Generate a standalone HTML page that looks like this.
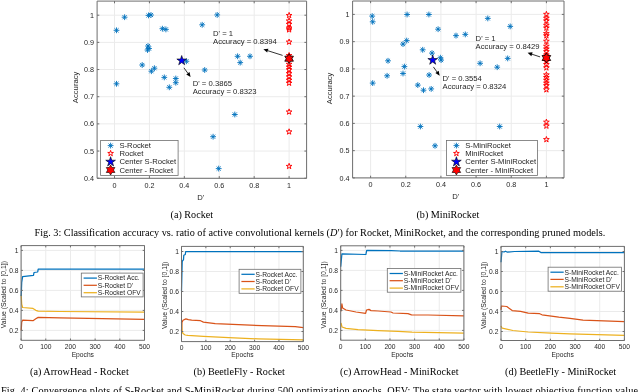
<!DOCTYPE html>
<html><head><meta charset="utf-8"><style>
html,body{margin:0;padding:0;background:#fff;width:640px;height:392px;overflow:hidden}
svg{display:block;will-change:transform}
</style></head><body>
<svg width="640" height="392" viewBox="0 0 640 392">
<rect width="640" height="392" fill="#fff"/>
<path d="M114.5 1.1V178.3M149.42 1.1V178.3M184.34 1.1V178.3M219.26 1.1V178.3M254.18 1.1V178.3M289.1 1.1V178.3M97.1 178.22H306.6M97.1 151.05H306.6M97.1 123.88H306.6M97.1 96.71H306.6M97.1 69.54H306.6M97.1 42.37H306.6M97.1 15.2H306.6" stroke="#ebebeb" stroke-width="1" fill="none"/>
<path d="M121.7 17.2L127.5 17.2M124.6 14.3L124.6 20.1M122.55 15.15L126.65 19.25M122.55 19.25L126.65 15.15M113.6 30.3L119.4 30.3M116.5 27.4L116.5 33.2M114.45 28.25L118.55 32.35M114.45 32.35L118.55 28.25M145.6 15.4L151.4 15.4M148.5 12.5L148.5 18.3M146.45 13.35L150.55 17.45M146.45 17.45L150.55 13.35M148.1 15L153.9 15M151 12.1L151 17.9M148.95 12.95L153.05 17.05M148.95 17.05L153.05 12.95M159.5 28.7L165.3 28.7M162.4 25.8L162.4 31.6M160.35 26.65L164.45 30.75M160.35 30.75L164.45 26.65M163 29.4L168.8 29.4M165.9 26.5L165.9 32.3M163.85 27.35L167.95 31.45M163.85 31.45L167.95 27.35M199.3 24.8L205.1 24.8M202.2 21.9L202.2 27.7M200.15 22.75L204.25 26.85M200.15 26.85L204.25 22.75M214.3 14.9L220.1 14.9M217.2 12L217.2 17.8M215.15 12.85L219.25 16.95M215.15 16.95L219.25 12.85M145.1 46L150.9 46M148 43.1L148 48.9M145.95 43.95L150.05 48.05M145.95 48.05L150.05 43.95M146.1 48.5L151.9 48.5M149 45.6L149 51.4M146.95 46.45L151.05 50.55M146.95 50.55L151.05 46.45M144.6 50L150.4 50M147.5 47.1L147.5 52.9M145.45 47.95L149.55 52.05M145.45 52.05L149.55 47.95M139.3 65L145.1 65M142.2 62.1L142.2 67.9M140.15 62.95L144.25 67.05M140.15 67.05L144.25 62.95M151.5 68.2L157.3 68.2M154.4 65.3L154.4 71.1M152.35 66.15L156.45 70.25M152.35 70.25L156.45 66.15M148.5 71.2L154.3 71.2M151.4 68.3L151.4 74.1M149.35 69.15L153.45 73.25M149.35 73.25L153.45 69.15M113.6 83.8L119.4 83.8M116.5 80.9L116.5 86.7M114.45 81.75L118.55 85.85M114.45 85.85L118.55 81.75M161.4 77.4L167.2 77.4M164.3 74.5L164.3 80.3M162.25 75.35L166.35 79.45M162.25 79.45L166.35 75.35M172.9 78.5L178.7 78.5M175.8 75.6L175.8 81.4M173.75 76.45L177.85 80.55M173.75 80.55L177.85 76.45M172.9 82.7L178.7 82.7M175.8 79.8L175.8 85.6M173.75 80.65L177.85 84.75M173.75 84.75L177.85 80.65M166.4 87.3L172.2 87.3M169.3 84.4L169.3 90.2M167.25 85.25L171.35 89.35M167.25 89.35L171.35 85.25M183.5 61.25L189.3 61.25M186.4 58.35L186.4 64.15M184.35 59.2L188.45 63.3M184.35 63.3L188.45 59.2M201.8 70L207.6 70M204.7 67.1L204.7 72.9M202.65 67.95L206.75 72.05M202.65 72.05L206.75 67.95M234.7 56.3L240.5 56.3M237.6 53.4L237.6 59.2M235.55 54.25L239.65 58.35M235.55 58.35L239.65 54.25M237.3 62.6L243.1 62.6M240.2 59.7L240.2 65.5M238.15 60.55L242.25 64.65M238.15 64.65L242.25 60.55M247.1 56.3L252.9 56.3M250 53.4L250 59.2M247.95 54.25L252.05 58.35M247.95 58.35L252.05 54.25M231.9 114.5L237.7 114.5M234.8 111.6L234.8 117.4M232.75 112.45L236.85 116.55M232.75 116.55L236.85 112.45M210.2 136.7L216 136.7M213.1 133.8L213.1 139.6M211.05 134.65L215.15 138.75M211.05 138.75L215.15 134.65M215.8 168.6L221.6 168.6M218.7 165.7L218.7 171.5M216.65 166.55L220.75 170.65M216.65 170.65L220.75 166.55" stroke="#0072BD" stroke-width="0.9" fill="none"/>
<polygon points="289.1,12.4 289.77,14.47 291.95,14.47 290.19,15.75 290.86,17.83 289.1,16.55 287.34,17.83 288.01,15.75 286.25,14.47 288.43,14.47" fill="none" stroke="#ff0000" stroke-width="0.95"/>
<polygon points="289.1,17.9 289.77,19.97 291.95,19.97 290.19,21.25 290.86,23.33 289.1,22.05 287.34,23.33 288.01,21.25 286.25,19.97 288.43,19.97" fill="none" stroke="#ff0000" stroke-width="0.95"/>
<polygon points="289.1,21.2 289.77,23.27 291.95,23.27 290.19,24.55 290.86,26.63 289.1,25.35 287.34,26.63 288.01,24.55 286.25,23.27 288.43,23.27" fill="none" stroke="#ff0000" stroke-width="0.95"/>
<polygon points="289.1,25 289.77,27.07 291.95,27.07 290.19,28.35 290.86,30.43 289.1,29.15 287.34,30.43 288.01,28.35 286.25,27.07 288.43,27.07" fill="none" stroke="#ff0000" stroke-width="0.95"/>
<polygon points="289.1,26.7 289.77,28.77 291.95,28.77 290.19,30.05 290.86,32.13 289.1,30.85 287.34,32.13 288.01,30.05 286.25,28.77 288.43,28.77" fill="none" stroke="#ff0000" stroke-width="0.95"/>
<polygon points="289.1,39 289.77,41.07 291.95,41.07 290.19,42.35 290.86,44.43 289.1,43.15 287.34,44.43 288.01,42.35 286.25,41.07 288.43,41.07" fill="none" stroke="#ff0000" stroke-width="0.95"/>
<polygon points="289.1,52.5 289.77,54.57 291.95,54.57 290.19,55.85 290.86,57.93 289.1,56.65 287.34,57.93 288.01,55.85 286.25,54.57 288.43,54.57" fill="none" stroke="#ff0000" stroke-width="0.95"/>
<polygon points="289.1,61.2 289.77,63.27 291.95,63.27 290.19,64.55 290.86,66.63 289.1,65.35 287.34,66.63 288.01,64.55 286.25,63.27 288.43,63.27" fill="none" stroke="#ff0000" stroke-width="0.95"/>
<polygon points="289.1,64 289.77,66.07 291.95,66.07 290.19,67.35 290.86,69.43 289.1,68.15 287.34,69.43 288.01,67.35 286.25,66.07 288.43,66.07" fill="none" stroke="#ff0000" stroke-width="0.95"/>
<polygon points="289.1,66.7 289.77,68.77 291.95,68.77 290.19,70.05 290.86,72.13 289.1,70.85 287.34,72.13 288.01,70.05 286.25,68.77 288.43,68.77" fill="none" stroke="#ff0000" stroke-width="0.95"/>
<polygon points="289.1,70.5 289.77,72.57 291.95,72.57 290.19,73.85 290.86,75.93 289.1,74.65 287.34,75.93 288.01,73.85 286.25,72.57 288.43,72.57" fill="none" stroke="#ff0000" stroke-width="0.95"/>
<polygon points="289.1,73.8 289.77,75.87 291.95,75.87 290.19,77.15 290.86,79.23 289.1,77.95 287.34,79.23 288.01,77.15 286.25,75.87 288.43,75.87" fill="none" stroke="#ff0000" stroke-width="0.95"/>
<polygon points="289.1,77.1 289.77,79.17 291.95,79.17 290.19,80.45 290.86,82.53 289.1,81.25 287.34,82.53 288.01,80.45 286.25,79.17 288.43,79.17" fill="none" stroke="#ff0000" stroke-width="0.95"/>
<polygon points="289.1,80.1 289.77,82.17 291.95,82.17 290.19,83.45 290.86,85.53 289.1,84.25 287.34,85.53 288.01,83.45 286.25,82.17 288.43,82.17" fill="none" stroke="#ff0000" stroke-width="0.95"/>
<polygon points="289.1,108.9 289.77,110.97 291.95,110.97 290.19,112.25 290.86,114.33 289.1,113.05 287.34,114.33 288.01,112.25 286.25,110.97 288.43,110.97" fill="none" stroke="#ff0000" stroke-width="0.95"/>
<polygon points="289.1,128.8 289.77,130.87 291.95,130.87 290.19,132.15 290.86,134.23 289.1,132.95 287.34,134.23 288.01,132.15 286.25,130.87 288.43,130.87" fill="none" stroke="#ff0000" stroke-width="0.95"/>
<polygon points="289.1,163.3 289.77,165.37 291.95,165.37 290.19,166.65 290.86,168.73 289.1,167.45 287.34,168.73 288.01,166.65 286.25,165.37 288.43,165.37" fill="none" stroke="#ff0000" stroke-width="0.95"/>
<polygon points="181.7,55.5 182.85,59.02 186.55,59.02 183.55,61.2 184.7,64.73 181.7,62.55 178.7,64.73 179.85,61.2 176.85,59.02 180.55,59.02" fill="#0000ff" stroke="#000" stroke-width="0.6"/>
<polygon points="289.1,53.7 290.54,56.2 293.43,56.2 291.99,58.7 293.43,61.2 290.54,61.2 289.1,63.7 287.66,61.2 284.77,61.2 286.22,58.7 284.77,56.2 287.66,56.2" fill="#ff0000" stroke="#000" stroke-width="0.8"/>
<path d="M183.9 67.8L187.89 73.28" stroke="#000" stroke-width="0.8"/>
<polygon points="190.6,77 186.28,74.46 189.51,72.1" fill="#000"/>
<path d="M282.6 55.4L267.78 50.69" stroke="#000" stroke-width="0.8"/>
<polygon points="263.4,49.3 268.39,48.79 267.18,52.6" fill="#000"/>
<path d="M97.1 1.1H306.6V178.3H97.1ZM114.5 178.3v-2.2M114.5 1.1v2.2M149.42 178.3v-2.2M149.42 1.1v2.2M184.34 178.3v-2.2M184.34 1.1v2.2M219.26 178.3v-2.2M219.26 1.1v2.2M254.18 178.3v-2.2M254.18 1.1v2.2M289.1 178.3v-2.2M289.1 1.1v2.2M97.1 178.22h2.2M306.6 178.22h-2.2M97.1 151.05h2.2M306.6 151.05h-2.2M97.1 123.88h2.2M306.6 123.88h-2.2M97.1 96.71h2.2M306.6 96.71h-2.2M97.1 69.54h2.2M306.6 69.54h-2.2M97.1 42.37h2.2M306.6 42.37h-2.2M97.1 15.2h2.2M306.6 15.2h-2.2" stroke="#6e6e6e" stroke-width="1" fill="none"/>
<text x="114.5" y="187.7" font-size="7.2" text-anchor="middle" fill="#262626" style='font-family:"Liberation Sans", sans-serif' >0</text>
<text x="149.42" y="187.7" font-size="7.2" text-anchor="middle" fill="#262626" style='font-family:"Liberation Sans", sans-serif' >0.2</text>
<text x="184.34" y="187.7" font-size="7.2" text-anchor="middle" fill="#262626" style='font-family:"Liberation Sans", sans-serif' >0.4</text>
<text x="219.26" y="187.7" font-size="7.2" text-anchor="middle" fill="#262626" style='font-family:"Liberation Sans", sans-serif' >0.6</text>
<text x="254.18" y="187.7" font-size="7.2" text-anchor="middle" fill="#262626" style='font-family:"Liberation Sans", sans-serif' >0.8</text>
<text x="289.1" y="187.7" font-size="7.2" text-anchor="middle" fill="#262626" style='font-family:"Liberation Sans", sans-serif' >1</text>
<text x="93.9" y="180.82" font-size="7.2" text-anchor="end" fill="#262626" style='font-family:"Liberation Sans", sans-serif' >0.4</text>
<text x="93.9" y="153.65" font-size="7.2" text-anchor="end" fill="#262626" style='font-family:"Liberation Sans", sans-serif' >0.5</text>
<text x="93.9" y="126.48" font-size="7.2" text-anchor="end" fill="#262626" style='font-family:"Liberation Sans", sans-serif' >0.6</text>
<text x="93.9" y="99.31" font-size="7.2" text-anchor="end" fill="#262626" style='font-family:"Liberation Sans", sans-serif' >0.7</text>
<text x="93.9" y="72.14" font-size="7.2" text-anchor="end" fill="#262626" style='font-family:"Liberation Sans", sans-serif' >0.8</text>
<text x="93.9" y="44.97" font-size="7.2" text-anchor="end" fill="#262626" style='font-family:"Liberation Sans", sans-serif' >0.9</text>
<text x="93.9" y="17.8" font-size="7.2" text-anchor="end" fill="#262626" style='font-family:"Liberation Sans", sans-serif' >1</text>
<text x="200.65" y="199.6" font-size="7.7" text-anchor="middle" fill="#262626" style='font-family:"Liberation Sans", sans-serif' >D'</text>
<text transform="translate(77.6 87.4) rotate(-90)" font-size="7.7" text-anchor="middle" fill="#262626" style='font-family:"Liberation Sans", sans-serif'>Accuracy</text>
<text x="192.7" y="85.75" font-size="7.7" text-anchor="start" fill="#262626" style='font-family:"Liberation Sans", sans-serif' >D' = 0.3865</text>
<text x="192.7" y="94.05" font-size="7.7" text-anchor="start" fill="#262626" style='font-family:"Liberation Sans", sans-serif' >Accuracy = 0.8323</text>
<text x="213" y="36.1" font-size="7.7" text-anchor="start" fill="#262626" style='font-family:"Liberation Sans", sans-serif' >D' = 1</text>
<text x="213" y="44.4" font-size="7.7" text-anchor="start" fill="#262626" style='font-family:"Liberation Sans", sans-serif' >Accuracy = 0.8394</text>
<rect x="100.6" y="140.4" width="77.5" height="35.2" fill="#fff" stroke="#6e6e6e" stroke-width="0.8"/>
<path d="M107.7 145.6L113.5 145.6M110.6 142.7L110.6 148.5M108.55 143.55L112.65 147.65M108.55 147.65L112.65 143.55" stroke="#0072BD" stroke-width="0.9" fill="none"/>
<polygon points="110.6,150.4 111.27,152.47 113.45,152.47 111.69,153.75 112.36,155.83 110.6,154.55 108.84,155.83 109.51,153.75 107.75,152.47 109.93,152.47" fill="none" stroke="#ff0000" stroke-width="0.95"/>
<polygon points="110.6,156.7 111.75,160.22 115.45,160.22 112.45,162.4 113.6,165.93 110.6,163.75 107.6,165.93 108.75,162.4 105.75,160.22 109.45,160.22" fill="#0000ff" stroke="#000" stroke-width="0.6"/>
<polygon points="110.6,165 112.04,167.5 114.93,167.5 113.48,170 114.93,172.5 112.04,172.5 110.6,175 109.16,172.5 106.27,172.5 107.71,170 106.27,167.5 109.16,167.5" fill="#ff0000" stroke="#000" stroke-width="0.6"/>
<text x="119.4" y="148.1" font-size="7.7" text-anchor="start" fill="#262626" style='font-family:"Liberation Sans", sans-serif' >S-Rocket</text>
<text x="119.4" y="155.9" font-size="7.7" text-anchor="start" fill="#262626" style='font-family:"Liberation Sans", sans-serif' >Rocket</text>
<text x="119.4" y="164.3" font-size="7.7" text-anchor="start" fill="#262626" style='font-family:"Liberation Sans", sans-serif' >Center S-Rocket</text>
<text x="119.4" y="172.5" font-size="7.7" text-anchor="start" fill="#262626" style='font-family:"Liberation Sans", sans-serif' >Center - Rocket</text>
<text x="170.6" y="217.6" font-size="10.15" text-anchor="start" fill="#000" style='font-family:"Liberation Serif", serif' >(a) Rocket</text>
<path d="M370.6 1V177.9M405.76 1V177.9M440.92 1V177.9M476.08 1V177.9M511.24 1V177.9M546.4 1V177.9M352.6 177.9H564M352.6 150.65H564M352.6 123.4H564M352.6 96.15H564M352.6 68.9H564M352.6 41.65H564M352.6 14.4H564" stroke="#ebebeb" stroke-width="1" fill="none"/>
<path d="M369.3 16.1L375.1 16.1M372.2 13.2L372.2 19M370.15 14.05L374.25 18.15M370.15 18.15L374.25 14.05M369.8 21.8L375.6 21.8M372.7 18.9L372.7 24.7M370.65 19.75L374.75 23.85M370.65 23.85L374.75 19.75M404.2 14.5L410 14.5M407.1 11.6L407.1 17.4M405.05 12.45L409.15 16.55M405.05 16.55L409.15 12.45M426 14.5L431.8 14.5M428.9 11.6L428.9 17.4M426.85 12.45L430.95 16.55M426.85 16.55L430.95 12.45M435.2 29.2L441 29.2M438.1 26.3L438.1 32.1M436.05 27.15L440.15 31.25M436.05 31.25L440.15 27.15M453.1 35.6L458.9 35.6M456 32.7L456 38.5M453.95 33.55L458.05 37.65M453.95 37.65L458.05 33.55M462.4 34.4L468.2 34.4M465.3 31.5L465.3 37.3M463.25 32.35L467.35 36.45M463.25 36.45L467.35 32.35M484.9 18.4L490.7 18.4M487.8 15.5L487.8 21.3M485.75 16.35L489.85 20.45M485.75 20.45L489.85 16.35M507.3 26.4L513.1 26.4M510.2 23.5L510.2 29.3M508.15 24.35L512.25 28.45M508.15 28.45L512.25 24.35M400.1 44.1L405.9 44.1M403 41.2L403 47M400.95 42.05L405.05 46.15M400.95 46.15L405.05 42.05M403.8 40.6L409.6 40.6M406.7 37.7L406.7 43.5M404.65 38.55L408.75 42.65M404.65 42.65L408.75 38.55M419.8 49.8L425.6 49.8M422.7 46.9L422.7 52.7M420.65 47.75L424.75 51.85M420.65 51.85L424.75 47.75M429.1 53.1L434.9 53.1M432 50.2L432 56M429.95 51.05L434.05 55.15M429.95 55.15L434.05 51.05M437.5 57.7L443.3 57.7M440.4 54.8L440.4 60.6M438.35 55.65L442.45 59.75M438.35 59.75L442.45 55.65M438.2 60.1L444 60.1M441.1 57.2L441.1 63M439.05 58.05L443.15 62.15M439.05 62.15L443.15 58.05M385.1 60.8L390.9 60.8M388 57.9L388 63.7M385.95 58.75L390.05 62.85M385.95 62.85L390.05 58.75M401.5 66.6L407.3 66.6M404.4 63.7L404.4 69.5M402.35 64.55L406.45 68.65M402.35 68.65L406.45 64.55M384.2 75.8L390 75.8M387.1 72.9L387.1 78.7M385.05 73.75L389.15 77.85M385.05 77.85L389.15 73.75M400.1 73.5L405.9 73.5M403 70.6L403 76.4M400.95 71.45L405.05 75.55M400.95 75.55L405.05 71.45M426.2 75L432 75M429.1 72.1L429.1 77.9M427.05 72.95L431.15 77.05M427.05 77.05L431.15 72.95M369.8 83.1L375.6 83.1M372.7 80.2L372.7 86M370.65 81.05L374.75 85.15M370.65 85.15L374.75 81.05M414.9 85.1L420.7 85.1M417.8 82.2L417.8 88M415.75 83.05L419.85 87.15M415.75 87.15L419.85 83.05M420.6 90.2L426.4 90.2M423.5 87.3L423.5 93.1M421.45 88.15L425.55 92.25M421.45 92.25L425.55 88.15M428.3 88.9L434.1 88.9M431.2 86L431.2 91.8M429.15 86.85L433.25 90.95M429.15 90.95L433.25 86.85M477.2 63.3L483 63.3M480.1 60.4L480.1 66.2M478.05 61.25L482.15 65.35M478.05 65.35L482.15 61.25M494.3 67.2L500.1 67.2M497.2 64.3L497.2 70.1M495.15 65.15L499.25 69.25M495.15 69.25L499.25 65.15M504.8 58.4L510.6 58.4M507.7 55.5L507.7 61.3M505.65 56.35L509.75 60.45M505.65 60.45L509.75 56.35M417.5 126.5L423.3 126.5M420.4 123.6L420.4 129.4M418.35 124.45L422.45 128.55M418.35 128.55L422.45 124.45M432.1 145.8L437.9 145.8M435 142.9L435 148.7M432.95 143.75L437.05 147.85M432.95 147.85L437.05 143.75M496.8 126.5L502.6 126.5M499.7 123.6L499.7 129.4M497.65 124.45L501.75 128.55M497.65 128.55L501.75 124.45" stroke="#0072BD" stroke-width="0.9" fill="none"/>
<polygon points="546.4,11.3 547.07,13.37 549.25,13.37 547.49,14.65 548.16,16.73 546.4,15.45 544.64,16.73 545.31,14.65 543.55,13.37 545.73,13.37" fill="none" stroke="#ff0000" stroke-width="0.95"/>
<polygon points="546.4,15.2 547.07,17.27 549.25,17.27 547.49,18.55 548.16,20.63 546.4,19.35 544.64,20.63 545.31,18.55 543.55,17.27 545.73,17.27" fill="none" stroke="#ff0000" stroke-width="0.95"/>
<polygon points="546.4,17.9 547.07,19.97 549.25,19.97 547.49,21.25 548.16,23.33 546.4,22.05 544.64,23.33 545.31,21.25 543.55,19.97 545.73,19.97" fill="none" stroke="#ff0000" stroke-width="0.95"/>
<polygon points="546.4,22.3 547.07,24.37 549.25,24.37 547.49,25.65 548.16,27.73 546.4,26.45 544.64,27.73 545.31,25.65 543.55,24.37 545.73,24.37" fill="none" stroke="#ff0000" stroke-width="0.95"/>
<polygon points="546.4,25 547.07,27.07 549.25,27.07 547.49,28.35 548.16,30.43 546.4,29.15 544.64,30.43 545.31,28.35 543.55,27.07 545.73,27.07" fill="none" stroke="#ff0000" stroke-width="0.95"/>
<polygon points="546.4,30.5 547.07,32.57 549.25,32.57 547.49,33.85 548.16,35.93 546.4,34.65 544.64,35.93 545.31,33.85 543.55,32.57 545.73,32.57" fill="none" stroke="#ff0000" stroke-width="0.95"/>
<polygon points="546.4,32.7 547.07,34.77 549.25,34.77 547.49,36.05 548.16,38.13 546.4,36.85 544.64,38.13 545.31,36.05 543.55,34.77 545.73,34.77" fill="none" stroke="#ff0000" stroke-width="0.95"/>
<polygon points="546.4,38.2 547.07,40.27 549.25,40.27 547.49,41.55 548.16,43.63 546.4,42.35 544.64,43.63 545.31,41.55 543.55,40.27 545.73,40.27" fill="none" stroke="#ff0000" stroke-width="0.95"/>
<polygon points="546.4,43.2 547.07,45.27 549.25,45.27 547.49,46.55 548.16,48.63 546.4,47.35 544.64,48.63 545.31,46.55 543.55,45.27 545.73,45.27" fill="none" stroke="#ff0000" stroke-width="0.95"/>
<polygon points="546.4,46 547.07,48.07 549.25,48.07 547.49,49.35 548.16,51.43 546.4,50.15 544.64,51.43 545.31,49.35 543.55,48.07 545.73,48.07" fill="none" stroke="#ff0000" stroke-width="0.95"/>
<polygon points="546.4,48.6 547.07,50.67 549.25,50.67 547.49,51.95 548.16,54.03 546.4,52.75 544.64,54.03 545.31,51.95 543.55,50.67 545.73,50.67" fill="none" stroke="#ff0000" stroke-width="0.95"/>
<polygon points="546.4,52 547.07,54.07 549.25,54.07 547.49,55.35 548.16,57.43 546.4,56.15 544.64,57.43 545.31,55.35 543.55,54.07 545.73,54.07" fill="none" stroke="#ff0000" stroke-width="0.95"/>
<polygon points="546.4,58.5 547.07,60.57 549.25,60.57 547.49,61.85 548.16,63.93 546.4,62.65 544.64,63.93 545.31,61.85 543.55,60.57 545.73,60.57" fill="none" stroke="#ff0000" stroke-width="0.95"/>
<polygon points="546.4,61.5 547.07,63.57 549.25,63.57 547.49,64.85 548.16,66.93 546.4,65.65 544.64,66.93 545.31,64.85 543.55,63.57 545.73,63.57" fill="none" stroke="#ff0000" stroke-width="0.95"/>
<polygon points="546.4,64.8 547.07,66.87 549.25,66.87 547.49,68.15 548.16,70.23 546.4,68.95 544.64,70.23 545.31,68.15 543.55,66.87 545.73,66.87" fill="none" stroke="#ff0000" stroke-width="0.95"/>
<polygon points="546.4,71.8 547.07,73.87 549.25,73.87 547.49,75.15 548.16,77.23 546.4,75.95 544.64,77.23 545.31,75.15 543.55,73.87 545.73,73.87" fill="none" stroke="#ff0000" stroke-width="0.95"/>
<polygon points="546.4,74.5 547.07,76.57 549.25,76.57 547.49,77.85 548.16,79.93 546.4,78.65 544.64,79.93 545.31,77.85 543.55,76.57 545.73,76.57" fill="none" stroke="#ff0000" stroke-width="0.95"/>
<polygon points="546.4,77.2 547.07,79.27 549.25,79.27 547.49,80.55 548.16,82.63 546.4,81.35 544.64,82.63 545.31,80.55 543.55,79.27 545.73,79.27" fill="none" stroke="#ff0000" stroke-width="0.95"/>
<polygon points="546.4,80.1 547.07,82.17 549.25,82.17 547.49,83.45 548.16,85.53 546.4,84.25 544.64,85.53 545.31,83.45 543.55,82.17 545.73,82.17" fill="none" stroke="#ff0000" stroke-width="0.95"/>
<polygon points="546.4,82.6 547.07,84.67 549.25,84.67 547.49,85.95 548.16,88.03 546.4,86.75 544.64,88.03 545.31,85.95 543.55,84.67 545.73,84.67" fill="none" stroke="#ff0000" stroke-width="0.95"/>
<polygon points="546.4,86.7 547.07,88.77 549.25,88.77 547.49,90.05 548.16,92.13 546.4,90.85 544.64,92.13 545.31,90.05 543.55,88.77 545.73,88.77" fill="none" stroke="#ff0000" stroke-width="0.95"/>
<polygon points="546.4,119.1 547.07,121.17 549.25,121.17 547.49,122.45 548.16,124.53 546.4,123.25 544.64,124.53 545.31,122.45 543.55,121.17 545.73,121.17" fill="none" stroke="#ff0000" stroke-width="0.95"/>
<polygon points="546.4,123 547.07,125.07 549.25,125.07 547.49,126.35 548.16,128.43 546.4,127.15 544.64,128.43 545.31,126.35 543.55,125.07 545.73,125.07" fill="none" stroke="#ff0000" stroke-width="0.95"/>
<polygon points="546.4,136.5 547.07,138.57 549.25,138.57 547.49,139.85 548.16,141.93 546.4,140.65 544.64,141.93 545.31,139.85 543.55,138.57 545.73,138.57" fill="none" stroke="#ff0000" stroke-width="0.95"/>
<polygon points="432.7,55 433.85,58.52 437.55,58.52 434.55,60.7 435.7,64.23 432.7,62.05 429.7,64.23 430.85,60.7 427.85,58.52 431.55,58.52" fill="#0000ff" stroke="#000" stroke-width="0.6"/>
<polygon points="546.4,53 547.84,55.5 550.73,55.5 549.28,58 550.73,60.5 547.84,60.5 546.4,63 544.96,60.5 542.07,60.5 543.51,58 542.07,55.5 544.96,55.5" fill="#ff0000" stroke="#000" stroke-width="0.8"/>
<path d="M433.4 66.9L437.02 71.96" stroke="#000" stroke-width="0.8"/>
<polygon points="439.7,75.7 435.4,73.12 438.65,70.8" fill="#000"/>
<path d="M540.1 56.9L531.97 54.23" stroke="#000" stroke-width="0.8"/>
<polygon points="527.6,52.8 532.59,52.33 531.35,56.13" fill="#000"/>
<path d="M352.6 1H564V177.9H352.6ZM370.6 177.9v-2.2M370.6 1v2.2M405.76 177.9v-2.2M405.76 1v2.2M440.92 177.9v-2.2M440.92 1v2.2M476.08 177.9v-2.2M476.08 1v2.2M511.24 177.9v-2.2M511.24 1v2.2M546.4 177.9v-2.2M546.4 1v2.2M352.6 177.9h2.2M564 177.9h-2.2M352.6 150.65h2.2M564 150.65h-2.2M352.6 123.4h2.2M564 123.4h-2.2M352.6 96.15h2.2M564 96.15h-2.2M352.6 68.9h2.2M564 68.9h-2.2M352.6 41.65h2.2M564 41.65h-2.2M352.6 14.4h2.2M564 14.4h-2.2" stroke="#6e6e6e" stroke-width="1" fill="none"/>
<text x="370.6" y="187.3" font-size="7.2" text-anchor="middle" fill="#262626" style='font-family:"Liberation Sans", sans-serif' >0</text>
<text x="405.76" y="187.3" font-size="7.2" text-anchor="middle" fill="#262626" style='font-family:"Liberation Sans", sans-serif' >0.2</text>
<text x="440.92" y="187.3" font-size="7.2" text-anchor="middle" fill="#262626" style='font-family:"Liberation Sans", sans-serif' >0.4</text>
<text x="476.08" y="187.3" font-size="7.2" text-anchor="middle" fill="#262626" style='font-family:"Liberation Sans", sans-serif' >0.6</text>
<text x="511.24" y="187.3" font-size="7.2" text-anchor="middle" fill="#262626" style='font-family:"Liberation Sans", sans-serif' >0.8</text>
<text x="546.4" y="187.3" font-size="7.2" text-anchor="middle" fill="#262626" style='font-family:"Liberation Sans", sans-serif' >1</text>
<text x="349.4" y="180.5" font-size="7.2" text-anchor="end" fill="#262626" style='font-family:"Liberation Sans", sans-serif' >0.4</text>
<text x="349.4" y="153.25" font-size="7.2" text-anchor="end" fill="#262626" style='font-family:"Liberation Sans", sans-serif' >0.5</text>
<text x="349.4" y="126" font-size="7.2" text-anchor="end" fill="#262626" style='font-family:"Liberation Sans", sans-serif' >0.6</text>
<text x="349.4" y="98.75" font-size="7.2" text-anchor="end" fill="#262626" style='font-family:"Liberation Sans", sans-serif' >0.7</text>
<text x="349.4" y="71.5" font-size="7.2" text-anchor="end" fill="#262626" style='font-family:"Liberation Sans", sans-serif' >0.8</text>
<text x="349.4" y="44.25" font-size="7.2" text-anchor="end" fill="#262626" style='font-family:"Liberation Sans", sans-serif' >0.9</text>
<text x="349.4" y="17" font-size="7.2" text-anchor="end" fill="#262626" style='font-family:"Liberation Sans", sans-serif' >1</text>
<text x="455.8" y="198.8" font-size="7.7" text-anchor="middle" fill="#262626" style='font-family:"Liberation Sans", sans-serif' >D'</text>
<text transform="translate(331.6 88.4) rotate(-90)" font-size="7.7" text-anchor="middle" fill="#262626" style='font-family:"Liberation Sans", sans-serif'>Accuracy</text>
<text x="442.5" y="80.8" font-size="7.7" text-anchor="start" fill="#262626" style='font-family:"Liberation Sans", sans-serif' >D' = 0.3554</text>
<text x="442.5" y="89.1" font-size="7.7" text-anchor="start" fill="#262626" style='font-family:"Liberation Sans", sans-serif' >Accuracy = 0.8324</text>
<text x="475.6" y="40.7" font-size="7.7" text-anchor="start" fill="#262626" style='font-family:"Liberation Sans", sans-serif' >D' = 1</text>
<text x="475.6" y="49" font-size="7.7" text-anchor="start" fill="#262626" style='font-family:"Liberation Sans", sans-serif' >Accuracy = 0.8429</text>
<rect x="446.4" y="140.4" width="91" height="35.2" fill="#fff" stroke="#6e6e6e" stroke-width="0.8"/>
<path d="M453.5 145.6L459.3 145.6M456.4 142.7L456.4 148.5M454.35 143.55L458.45 147.65M454.35 147.65L458.45 143.55" stroke="#0072BD" stroke-width="0.9" fill="none"/>
<polygon points="456.4,150.4 457.07,152.47 459.25,152.47 457.49,153.75 458.16,155.83 456.4,154.55 454.64,155.83 455.31,153.75 453.55,152.47 455.73,152.47" fill="none" stroke="#ff0000" stroke-width="0.95"/>
<polygon points="456.4,156.7 457.55,160.22 461.25,160.22 458.25,162.4 459.4,165.93 456.4,163.75 453.4,165.93 454.55,162.4 451.55,160.22 455.25,160.22" fill="#0000ff" stroke="#000" stroke-width="0.6"/>
<polygon points="456.4,165 457.84,167.5 460.73,167.5 459.28,170 460.73,172.5 457.84,172.5 456.4,175 454.96,172.5 452.07,172.5 453.51,170 452.07,167.5 454.96,167.5" fill="#ff0000" stroke="#000" stroke-width="0.6"/>
<text x="465.2" y="148.1" font-size="7.7" text-anchor="start" fill="#262626" style='font-family:"Liberation Sans", sans-serif' >S-MiniRocket</text>
<text x="465.2" y="155.9" font-size="7.7" text-anchor="start" fill="#262626" style='font-family:"Liberation Sans", sans-serif' >MiniRocket</text>
<text x="465.2" y="164.3" font-size="7.7" text-anchor="start" fill="#262626" style='font-family:"Liberation Sans", sans-serif' >Center S-MiniRocket</text>
<text x="465.2" y="172.5" font-size="7.7" text-anchor="start" fill="#262626" style='font-family:"Liberation Sans", sans-serif' >Center - MiniRocket</text>
<text x="416.5" y="217.6" font-size="10.15" text-anchor="start" fill="#000" style='font-family:"Liberation Serif", serif' >(b) MiniRocket</text>
<path d="M21.1 245.6V340.3M45.78 245.6V340.3M70.46 245.6V340.3M95.14 245.6V340.3M119.82 245.6V340.3M144.5 245.6V340.3M21.1 330.4H144.5M21.1 310.4H144.5M21.1 290.4H144.5M21.1 270.4H144.5M21.1 250.4H144.5" stroke="#ebebeb" stroke-width="1" fill="none"/>
<polyline points="21.2,294.7 21.7,304.2 22.6,307.5 33,308.4 35.8,310.3 38.2,311.2 60,311.5 144.5,312.2" fill="none" stroke="#EDB120" stroke-width="1.25" stroke-linejoin="round"/>
<polyline points="21.2,330.5 21.7,322 22.6,320.2 33,320.7 35.8,318.8 38.2,317.4 60,317.8 144.5,319.4" fill="none" stroke="#D95319" stroke-width="1.25" stroke-linejoin="round"/>
<polyline points="21.2,296 21.7,282.4 22.6,276.7 33.5,275.3 34,272.5 37.7,272 38.2,269.2 144.5,269.2" fill="none" stroke="#0072BD" stroke-width="1.25" stroke-linejoin="round"/>
<path d="M21.1 245.6H144.5V340.3H21.1ZM21.1 340.3v-1.8M21.1 245.6v1.8M45.78 340.3v-1.8M45.78 245.6v1.8M70.46 340.3v-1.8M70.46 245.6v1.8M95.14 340.3v-1.8M95.14 245.6v1.8M119.82 340.3v-1.8M119.82 245.6v1.8M144.5 340.3v-1.8M144.5 245.6v1.8M21.1 330.4h1.8M144.5 330.4h-1.8M21.1 310.4h1.8M144.5 310.4h-1.8M21.1 290.4h1.8M144.5 290.4h-1.8M21.1 270.4h1.8M144.5 270.4h-1.8M21.1 250.4h1.8M144.5 250.4h-1.8" stroke="#6e6e6e" stroke-width="1" fill="none"/>
<text x="21.1" y="348.9" font-size="6.7" text-anchor="middle" fill="#262626" style='font-family:"Liberation Sans", sans-serif' >0</text>
<text x="45.78" y="348.9" font-size="6.7" text-anchor="middle" fill="#262626" style='font-family:"Liberation Sans", sans-serif' >100</text>
<text x="70.46" y="348.9" font-size="6.7" text-anchor="middle" fill="#262626" style='font-family:"Liberation Sans", sans-serif' >200</text>
<text x="95.14" y="348.9" font-size="6.7" text-anchor="middle" fill="#262626" style='font-family:"Liberation Sans", sans-serif' >300</text>
<text x="119.82" y="348.9" font-size="6.7" text-anchor="middle" fill="#262626" style='font-family:"Liberation Sans", sans-serif' >400</text>
<text x="144.5" y="348.9" font-size="6.7" text-anchor="middle" fill="#262626" style='font-family:"Liberation Sans", sans-serif' >500</text>
<text x="18.5" y="332.8" font-size="6.7" text-anchor="end" fill="#262626" style='font-family:"Liberation Sans", sans-serif' >0.2</text>
<text x="18.5" y="312.8" font-size="6.7" text-anchor="end" fill="#262626" style='font-family:"Liberation Sans", sans-serif' >0.4</text>
<text x="18.5" y="292.8" font-size="6.7" text-anchor="end" fill="#262626" style='font-family:"Liberation Sans", sans-serif' >0.6</text>
<text x="18.5" y="272.8" font-size="6.7" text-anchor="end" fill="#262626" style='font-family:"Liberation Sans", sans-serif' >0.8</text>
<text x="18.5" y="252.8" font-size="6.7" text-anchor="end" fill="#262626" style='font-family:"Liberation Sans", sans-serif' >1</text>
<text x="82.8" y="357.1" font-size="6.7" text-anchor="middle" fill="#262626" style='font-family:"Liberation Sans", sans-serif' >Epochs</text>
<text transform="translate(6.1 294.6) rotate(-90)" font-size="6.85" text-anchor="middle" fill="#262626" style='font-family:"Liberation Sans", sans-serif'>Value (Scaled to [0,1])</text>
<rect x="81.3" y="273.1" width="61.8" height="23.8" fill="#fff" stroke="#6e6e6e" stroke-width="0.8"/>
<path d="M83.6 278.1H96.9" stroke="#0072BD" stroke-width="1.25"/>
<text x="97.7" y="280.4" font-size="6.7" text-anchor="start" fill="#262626" style='font-family:"Liberation Sans", sans-serif' >S-Rocket Acc.</text>
<path d="M83.6 285.3H96.9" stroke="#D95319" stroke-width="1.25"/>
<text x="97.7" y="287.6" font-size="6.7" text-anchor="start" fill="#262626" style='font-family:"Liberation Sans", sans-serif' >S-Rocket D'</text>
<path d="M83.6 292.7H96.9" stroke="#EDB120" stroke-width="1.25"/>
<text x="97.7" y="295" font-size="6.7" text-anchor="start" fill="#262626" style='font-family:"Liberation Sans", sans-serif' >S-Rocket OFV</text>
<text x="30" y="374.5" font-size="10.2" text-anchor="start" fill="#000" style='font-family:"Liberation Serif", serif' >(a) ArrowHead - Rocket</text>
<path d="M181.5 246.4V341.6M205.86 246.4V341.6M230.22 246.4V341.6M254.58 246.4V341.6M278.94 246.4V341.6M303.3 246.4V341.6M181.5 331.5H303.3M181.5 311.5H303.3M181.5 291.5H303.3M181.5 271.5H303.3M181.5 251.5H303.3" stroke="#ebebeb" stroke-width="1" fill="none"/>
<polyline points="181.5,322.2 182.2,331.5 183,333.5 185.2,335 187.8,335.4 203.4,336.4 228.8,337.7 258.1,338.9 303.3,339.8" fill="none" stroke="#EDB120" stroke-width="1.25" stroke-linejoin="round"/>
<polyline points="181.5,331.3 181.9,322.5 183,320.2 185.9,318.9 188.3,319.7 191.7,320.2 200.5,320.7 203.4,322.1 215.2,323.7 238.6,324.6 262,325.6 295.2,326.6 303.3,327.6" fill="none" stroke="#D95319" stroke-width="1.25" stroke-linejoin="round"/>
<polyline points="181.5,291.2 182.2,261.4 183.5,259.6 183.8,255.3 185.3,254.5 185.6,252 186,251.5 303.3,251.5" fill="none" stroke="#0072BD" stroke-width="1.25" stroke-linejoin="round"/>
<path d="M181.5 246.4H303.3V341.6H181.5ZM181.5 341.6v-1.8M181.5 246.4v1.8M205.86 341.6v-1.8M205.86 246.4v1.8M230.22 341.6v-1.8M230.22 246.4v1.8M254.58 341.6v-1.8M254.58 246.4v1.8M278.94 341.6v-1.8M278.94 246.4v1.8M303.3 341.6v-1.8M303.3 246.4v1.8M181.5 331.5h1.8M303.3 331.5h-1.8M181.5 311.5h1.8M303.3 311.5h-1.8M181.5 291.5h1.8M303.3 291.5h-1.8M181.5 271.5h1.8M303.3 271.5h-1.8M181.5 251.5h1.8M303.3 251.5h-1.8" stroke="#6e6e6e" stroke-width="1" fill="none"/>
<text x="181.5" y="350.2" font-size="6.7" text-anchor="middle" fill="#262626" style='font-family:"Liberation Sans", sans-serif' >0</text>
<text x="205.86" y="350.2" font-size="6.7" text-anchor="middle" fill="#262626" style='font-family:"Liberation Sans", sans-serif' >100</text>
<text x="230.22" y="350.2" font-size="6.7" text-anchor="middle" fill="#262626" style='font-family:"Liberation Sans", sans-serif' >200</text>
<text x="254.58" y="350.2" font-size="6.7" text-anchor="middle" fill="#262626" style='font-family:"Liberation Sans", sans-serif' >300</text>
<text x="278.94" y="350.2" font-size="6.7" text-anchor="middle" fill="#262626" style='font-family:"Liberation Sans", sans-serif' >400</text>
<text x="303.3" y="350.2" font-size="6.7" text-anchor="middle" fill="#262626" style='font-family:"Liberation Sans", sans-serif' >500</text>
<text x="178.9" y="333.9" font-size="6.7" text-anchor="end" fill="#262626" style='font-family:"Liberation Sans", sans-serif' >0.2</text>
<text x="178.9" y="313.9" font-size="6.7" text-anchor="end" fill="#262626" style='font-family:"Liberation Sans", sans-serif' >0.4</text>
<text x="178.9" y="293.9" font-size="6.7" text-anchor="end" fill="#262626" style='font-family:"Liberation Sans", sans-serif' >0.6</text>
<text x="178.9" y="273.9" font-size="6.7" text-anchor="end" fill="#262626" style='font-family:"Liberation Sans", sans-serif' >0.8</text>
<text x="178.9" y="253.9" font-size="6.7" text-anchor="end" fill="#262626" style='font-family:"Liberation Sans", sans-serif' >1</text>
<text x="242.4" y="357.1" font-size="6.7" text-anchor="middle" fill="#262626" style='font-family:"Liberation Sans", sans-serif' >Epochs</text>
<text transform="translate(166.5 295.4) rotate(-90)" font-size="6.85" text-anchor="middle" fill="#262626" style='font-family:"Liberation Sans", sans-serif'>Value (Scaled to [0,1])</text>
<rect x="239.1" y="269.3" width="61.8" height="24" fill="#fff" stroke="#6e6e6e" stroke-width="0.8"/>
<path d="M241.4 274.3H254.7" stroke="#0072BD" stroke-width="1.25"/>
<text x="255.5" y="276.6" font-size="6.7" text-anchor="start" fill="#262626" style='font-family:"Liberation Sans", sans-serif' >S-Rocket Acc.</text>
<path d="M241.4 281.5H254.7" stroke="#D95319" stroke-width="1.25"/>
<text x="255.5" y="283.8" font-size="6.7" text-anchor="start" fill="#262626" style='font-family:"Liberation Sans", sans-serif' >S-Rocket D'</text>
<path d="M241.4 288.9H254.7" stroke="#EDB120" stroke-width="1.25"/>
<text x="255.5" y="291.2" font-size="6.7" text-anchor="start" fill="#262626" style='font-family:"Liberation Sans", sans-serif' >S-Rocket OFV</text>
<text x="193.5" y="374.5" font-size="10.2" text-anchor="start" fill="#000" style='font-family:"Liberation Serif", serif' >(b) BeetleFly - Rocket</text>
<path d="M340.7 245.8V340.2M365.34 245.8V340.2M389.98 245.8V340.2M414.62 245.8V340.2M439.26 245.8V340.2M463.9 245.8V340.2M340.7 330.4H463.9M340.7 310.4H463.9M340.7 290.4H463.9M340.7 270.4H463.9M340.7 250.4H463.9" stroke="#ebebeb" stroke-width="1" fill="none"/>
<polyline points="341,323 342,327 346,328.4 358,329.6 378,330.6 398,331.4 412,332.2 463.9,333.1" fill="none" stroke="#EDB120" stroke-width="1.25" stroke-linejoin="round"/>
<polyline points="341,311.4 341.9,303.8 342.6,308 346,310 356,312 365.6,313.4 366.5,310 369,309.4 371,310.6 378,311 391,312 393,313 408,313.6 411.5,314.8 428,315 463.9,315.8" fill="none" stroke="#D95319" stroke-width="1.25" stroke-linejoin="round"/>
<polyline points="340.7,266.8 341.9,253.8 365.9,254.5 366.7,250.4 391.2,250.7 400,251 463.9,251" fill="none" stroke="#0072BD" stroke-width="1.25" stroke-linejoin="round"/>
<path d="M340.7 245.8H463.9V340.2H340.7ZM340.7 340.2v-1.8M340.7 245.8v1.8M365.34 340.2v-1.8M365.34 245.8v1.8M389.98 340.2v-1.8M389.98 245.8v1.8M414.62 340.2v-1.8M414.62 245.8v1.8M439.26 340.2v-1.8M439.26 245.8v1.8M463.9 340.2v-1.8M463.9 245.8v1.8M340.7 330.4h1.8M463.9 330.4h-1.8M340.7 310.4h1.8M463.9 310.4h-1.8M340.7 290.4h1.8M463.9 290.4h-1.8M340.7 270.4h1.8M463.9 270.4h-1.8M340.7 250.4h1.8M463.9 250.4h-1.8" stroke="#6e6e6e" stroke-width="1" fill="none"/>
<text x="340.7" y="348.8" font-size="6.7" text-anchor="middle" fill="#262626" style='font-family:"Liberation Sans", sans-serif' >0</text>
<text x="365.34" y="348.8" font-size="6.7" text-anchor="middle" fill="#262626" style='font-family:"Liberation Sans", sans-serif' >100</text>
<text x="389.98" y="348.8" font-size="6.7" text-anchor="middle" fill="#262626" style='font-family:"Liberation Sans", sans-serif' >200</text>
<text x="414.62" y="348.8" font-size="6.7" text-anchor="middle" fill="#262626" style='font-family:"Liberation Sans", sans-serif' >300</text>
<text x="439.26" y="348.8" font-size="6.7" text-anchor="middle" fill="#262626" style='font-family:"Liberation Sans", sans-serif' >400</text>
<text x="463.9" y="348.8" font-size="6.7" text-anchor="middle" fill="#262626" style='font-family:"Liberation Sans", sans-serif' >500</text>
<text x="338.1" y="332.8" font-size="6.7" text-anchor="end" fill="#262626" style='font-family:"Liberation Sans", sans-serif' >0.2</text>
<text x="338.1" y="312.8" font-size="6.7" text-anchor="end" fill="#262626" style='font-family:"Liberation Sans", sans-serif' >0.4</text>
<text x="338.1" y="292.8" font-size="6.7" text-anchor="end" fill="#262626" style='font-family:"Liberation Sans", sans-serif' >0.6</text>
<text x="338.1" y="272.8" font-size="6.7" text-anchor="end" fill="#262626" style='font-family:"Liberation Sans", sans-serif' >0.8</text>
<text x="338.1" y="252.8" font-size="6.7" text-anchor="end" fill="#262626" style='font-family:"Liberation Sans", sans-serif' >1</text>
<text x="402.3" y="357.1" font-size="6.7" text-anchor="middle" fill="#262626" style='font-family:"Liberation Sans", sans-serif' >Epochs</text>
<text transform="translate(325.7 294.8) rotate(-90)" font-size="6.85" text-anchor="middle" fill="#262626" style='font-family:"Liberation Sans", sans-serif'>Value (Scaled to [0,1])</text>
<rect x="387.3" y="268.5" width="73.6" height="23.7" fill="#fff" stroke="#6e6e6e" stroke-width="0.8"/>
<path d="M389.6 273.5H402.9" stroke="#0072BD" stroke-width="1.25"/>
<text x="403.7" y="275.8" font-size="6.7" text-anchor="start" fill="#262626" style='font-family:"Liberation Sans", sans-serif' >S-MiniRocket Acc.</text>
<path d="M389.6 280.7H402.9" stroke="#D95319" stroke-width="1.25"/>
<text x="403.7" y="283" font-size="6.7" text-anchor="start" fill="#262626" style='font-family:"Liberation Sans", sans-serif' >S-MiniRocket D'</text>
<path d="M389.6 288.1H402.9" stroke="#EDB120" stroke-width="1.25"/>
<text x="403.7" y="290.4" font-size="6.7" text-anchor="start" fill="#262626" style='font-family:"Liberation Sans", sans-serif' >S-MiniRocket OFV</text>
<text x="340" y="374.5" font-size="10.2" text-anchor="start" fill="#000" style='font-family:"Liberation Serif", serif' >(c) ArrowHead - MiniRocket</text>
<path d="M501 246.4V340.5M525.68 246.4V340.5M550.36 246.4V340.5M575.04 246.4V340.5M599.72 246.4V340.5M624.4 246.4V340.5M501 331.5H624.4M501 311.5H624.4M501 291.5H624.4M501 271.5H624.4M501 251.5H624.4" stroke="#ebebeb" stroke-width="1" fill="none"/>
<polyline points="501,326 502.2,328.2 512.9,330.5 528.2,332 551.2,333.1 570,333.9 624.4,335.4" fill="none" stroke="#EDB120" stroke-width="1.25" stroke-linejoin="round"/>
<polyline points="501,309.9 501.5,306 506.8,306.5 512.2,310.6 520.6,311.4 528.2,313.2 539.7,313.7 542,314.8 558.8,317.2 570,318.3 583,320.2 624.4,321.6" fill="none" stroke="#D95319" stroke-width="1.25" stroke-linejoin="round"/>
<polyline points="501,262.2 501.9,251.5 504,252 505.5,251.2 507.5,252.2 514.5,251.5 538.9,251.2 541.2,252.7 624.4,252.7" fill="none" stroke="#0072BD" stroke-width="1.25" stroke-linejoin="round"/>
<path d="M501 246.4H624.4V340.5H501ZM501 340.5v-1.8M501 246.4v1.8M525.68 340.5v-1.8M525.68 246.4v1.8M550.36 340.5v-1.8M550.36 246.4v1.8M575.04 340.5v-1.8M575.04 246.4v1.8M599.72 340.5v-1.8M599.72 246.4v1.8M624.4 340.5v-1.8M624.4 246.4v1.8M501 331.5h1.8M624.4 331.5h-1.8M501 311.5h1.8M624.4 311.5h-1.8M501 291.5h1.8M624.4 291.5h-1.8M501 271.5h1.8M624.4 271.5h-1.8M501 251.5h1.8M624.4 251.5h-1.8" stroke="#6e6e6e" stroke-width="1" fill="none"/>
<text x="501" y="349.1" font-size="6.7" text-anchor="middle" fill="#262626" style='font-family:"Liberation Sans", sans-serif' >0</text>
<text x="525.68" y="349.1" font-size="6.7" text-anchor="middle" fill="#262626" style='font-family:"Liberation Sans", sans-serif' >100</text>
<text x="550.36" y="349.1" font-size="6.7" text-anchor="middle" fill="#262626" style='font-family:"Liberation Sans", sans-serif' >200</text>
<text x="575.04" y="349.1" font-size="6.7" text-anchor="middle" fill="#262626" style='font-family:"Liberation Sans", sans-serif' >300</text>
<text x="599.72" y="349.1" font-size="6.7" text-anchor="middle" fill="#262626" style='font-family:"Liberation Sans", sans-serif' >400</text>
<text x="624.4" y="349.1" font-size="6.7" text-anchor="middle" fill="#262626" style='font-family:"Liberation Sans", sans-serif' >500</text>
<text x="498.4" y="333.9" font-size="6.7" text-anchor="end" fill="#262626" style='font-family:"Liberation Sans", sans-serif' >0.2</text>
<text x="498.4" y="313.9" font-size="6.7" text-anchor="end" fill="#262626" style='font-family:"Liberation Sans", sans-serif' >0.4</text>
<text x="498.4" y="293.9" font-size="6.7" text-anchor="end" fill="#262626" style='font-family:"Liberation Sans", sans-serif' >0.6</text>
<text x="498.4" y="273.9" font-size="6.7" text-anchor="end" fill="#262626" style='font-family:"Liberation Sans", sans-serif' >0.8</text>
<text x="498.4" y="253.9" font-size="6.7" text-anchor="end" fill="#262626" style='font-family:"Liberation Sans", sans-serif' >1</text>
<text x="562.7" y="357.1" font-size="6.7" text-anchor="middle" fill="#262626" style='font-family:"Liberation Sans", sans-serif' >Epochs</text>
<text transform="translate(486 295.4) rotate(-90)" font-size="6.85" text-anchor="middle" fill="#262626" style='font-family:"Liberation Sans", sans-serif'>Value (Scaled to [0,1])</text>
<rect x="548.1" y="267.2" width="73.5" height="24" fill="#fff" stroke="#6e6e6e" stroke-width="0.8"/>
<path d="M550.4 272.2H563.7" stroke="#0072BD" stroke-width="1.25"/>
<text x="564.5" y="274.5" font-size="6.7" text-anchor="start" fill="#262626" style='font-family:"Liberation Sans", sans-serif' >S-MiniRocket Acc.</text>
<path d="M550.4 279.4H563.7" stroke="#D95319" stroke-width="1.25"/>
<text x="564.5" y="281.7" font-size="6.7" text-anchor="start" fill="#262626" style='font-family:"Liberation Sans", sans-serif' >S-MiniRocket D'</text>
<path d="M550.4 286.8H563.7" stroke="#EDB120" stroke-width="1.25"/>
<text x="564.5" y="289.1" font-size="6.7" text-anchor="start" fill="#262626" style='font-family:"Liberation Sans", sans-serif' >S-MiniRocket OFV</text>
<text x="505" y="374.5" font-size="10.2" text-anchor="start" fill="#000" style='font-family:"Liberation Serif", serif' >(d) BeetleFly - MiniRocket</text>
<text x="34.5" y="236.3" font-size="10.25" fill="#000" style='font-family:"Liberation Serif", serif'>Fig. 3: Classification accuracy vs. ratio of active convolutional kernels (<tspan font-style="italic">D</tspan>′) for Rocket, MiniRocket, and the corresponding pruned models.</text>
<text x="1" y="393.5" font-size="10.25" fill="#000" textLength="637" lengthAdjust="spacing" style='font-family:"Liberation Serif", serif'>Fig. 4: Convergence plots of S-Rocket and S-MiniRocket during 500 optimization epochs. OFV: The state vector with lowest objective function value</text>
</svg>
</body></html>
